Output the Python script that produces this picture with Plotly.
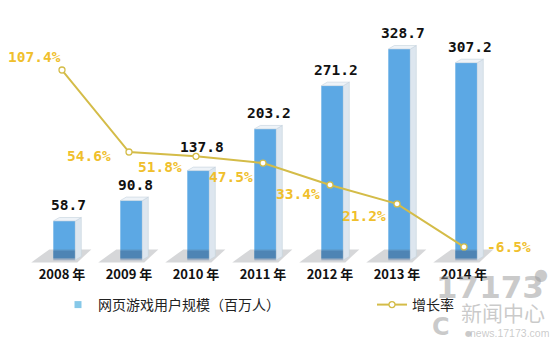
import plotly.graph_objects as go

# ---------------- data ----------------
years = ["2008 年", "2009 年", "2010 年", "2011 年", "2012 年", "2013 年", "2014 年"]
users = [58.7, 90.8, 137.8, 203.2, 271.2, 328.7, 307.2]          # 网页游戏用户规模（百万人）
growth = [107.4, 54.6, 51.8, 47.5, 33.4, 21.2, -6.5]             # 增长率 (%)
series_names = ["网页游戏用户规模（百万人）", "增长率"]

# ---------------- styling / geometry ----------------
W, H = 550, 340
M_T, M_B = 15, 75
PLOT_H = H - M_T - M_B
PX_PER_CAT = 67.0
X0_PX = 62.0
Y1_ZERO_PX, Y1_SCALE = 258.4, 0.637    # px of 0 and px per unit (left axis)
Y2_ZERO_PX, Y2_SCALE = 236.8, 1.553    # right axis (percent)

def y1_range():
    top, bot = M_T, M_T + PLOT_H
    return [(Y1_ZERO_PX - bot) / Y1_SCALE, (Y1_ZERO_PX - top) / Y1_SCALE]

def y2_range():
    top, bot = M_T, M_T + PLOT_H
    return [(Y2_ZERO_PX - bot) / Y2_SCALE, (Y2_ZERO_PX - top) / Y2_SCALE]

x_range = [-X0_PX / PX_PER_CAT, (W - X0_PX) / PX_PER_CAT]

BAR_SHIFT = 2.3 / PX_PER_CAT
BAR_W = 22 / PX_PER_CAT
SIDE_W = 6 / PX_PER_CAT
DEPTH = 3.5 / Y1_SCALE

BAR_COLOR = "#5CA8E4"
BAR_DARK = "rgba(40,100,165,0.35)"
SIDE_COLOR = "#DDE6EF"
CAP_COLOR = "#EEF3F8"
EDGE_COLOR = "#C5D2DE"
LINE_COLOR = "#D4BC48"
PCT_COLOR = "#F0BF2C"
NUM_FONT = "DejaVu Sans Mono"
CJK_FONT = "Noto Sans CJK SC"

# per-label pixel offsets (style only)
pct_offsets = [(-28, -13), (-40, 4), (-36, 11), (-32, 14), (-32, 9), (-33, 12), (45, 0)]
val_lift = [16, 16, 24, 16, 16, 16, 16]

idx = list(range(len(years)))
bar_x = [i + BAR_SHIFT for i in idx]

# ----- 3D decoration polygons, computed from the data -----
sx, sy, cx, cy, shx, shy = [], [], [], [], [], []
px = 1 / PX_PER_CAT
py = 1 / Y1_SCALE
for xc, v in zip(bar_x, users):
    L, R = xc - BAR_W / 2, xc + BAR_W / 2
    sx += [R, R + SIDE_W, R + SIDE_W, R, R, None]
    sy += [-2.5, -2.5 + DEPTH, v + DEPTH, v, -2.5, None]
    cx += [L, R, R + SIDE_W, L + SIDE_W, L, None]
    cy += [v, v, v + DEPTH, v + DEPTH, v, None]
    shx += [L - 22 * px, R + 2 * px, R + 16 * px, L - 4 * px, L - 22 * px, None]
    shy += [-4 * py, -4 * py, 9 * py, 9 * py, -4 * py, None]

fig = go.Figure()

fig.add_trace(go.Scatter(x=shx, y=shy, mode="lines", fill="toself",
                         fillcolor="rgba(90,95,105,0.25)", line=dict(width=0),
                         hoverinfo="skip", showlegend=False))
fig.add_trace(go.Scatter(x=sx, y=sy, mode="lines", fill="toself",
                         fillcolor=SIDE_COLOR, line=dict(width=0.6, color=EDGE_COLOR),
                         hoverinfo="skip", showlegend=False))
fig.add_trace(go.Scatter(x=cx, y=cy, mode="lines", fill="toself",
                         fillcolor=CAP_COLOR, line=dict(width=0.6, color=EDGE_COLOR),
                         hoverinfo="skip", showlegend=False))
# legend-only swatch for the bars
fig.add_trace(go.Scatter(x=[None], y=[None], mode="markers", name=series_names[0],
                         marker=dict(symbol="square", size=7, color="#86C8E8"),
                         showlegend=True, legend="legend"))

fig.add_trace(go.Bar(x=bar_x, y=users, width=BAR_W, marker=dict(color=BAR_COLOR, line=dict(width=0)),
                     name=series_names[0], showlegend=False))
fig.add_trace(go.Bar(x=bar_x, y=[15] * len(users), base=-3, width=BAR_W,
                     marker=dict(color=BAR_DARK, line=dict(width=0)),
                     hoverinfo="skip", showlegend=False))

fig.add_trace(go.Scatter(x=idx, y=growth, yaxis="y2", mode="lines+markers", name=series_names[1],
                         line=dict(color=LINE_COLOR, width=2),
                         marker=dict(size=6, color="white", line=dict(color=LINE_COLOR, width=1.3)),
                         showlegend=True, legend="legend2"))

annotations = []
for xc, v, lift in zip(bar_x, users, val_lift):
    annotations.append(dict(x=xc + 4 / PX_PER_CAT, y=v, xref="x", yref="y", yshift=lift,
                            text=f"<b>{v:.1f}</b>", showarrow=False, yanchor="middle",
                            font=dict(family=NUM_FONT, size=14.5, color="#111111")))
for i, g, (dx, dy) in zip(idx, growth, pct_offsets):
    annotations.append(dict(x=i, y=g, xref="x", yref="y2", xshift=dx, yshift=-dy,
                            text=f"<b>{g:.1f}%</b>", showarrow=False, yanchor="middle",
                            font=dict(family=NUM_FONT, size=14.5, color=PCT_COLOR)))

# watermark (pixel positions converted to paper)
wm = "rgba(150,150,150,0.5)"
wm_items = [
    (490, 287, "<b>17173</b>", "DejaVu Sans", 31),
    (541, 274, "●", "DejaVu Sans", 16),
    (503, 312, "新闻中心", CJK_FONT, 21),
    (468, 333, "●", "DejaVu Sans", 8),
    (510, 333, "news.17173.com", "Liberation Sans", 10.5),
    (441, 327, "<b>C</b>", "DejaVu Sans", 24),
]
for xp, yp, t, fam, sz in wm_items:
    annotations.append(dict(x=xp / W, y=(H - yp - M_B) / PLOT_H, xref="paper", yref="paper",
                            text=t, showarrow=False, xanchor="center", yanchor="middle",
                            font=dict(family=fam, size=sz, color=wm)))

legend_y = -(305 - (M_T + PLOT_H)) / PLOT_H
legend_font = dict(family=CJK_FONT, size=14, color="#222222")

fig.update_layout(
    width=W, height=H,
    margin=dict(l=0, r=0, t=M_T, b=M_B),
    paper_bgcolor="white", plot_bgcolor="white",
    barmode="overlay",
    xaxis=dict(range=x_range, tickvals=idx, ticktext=years, showgrid=False, zeroline=False,
               showline=False, ticks="",
               tickfont=dict(family=CJK_FONT, size=13, color="#111111", weight="bold")),
    yaxis=dict(range=y1_range(), visible=False),
    yaxis2=dict(range=y2_range(), overlaying="y", visible=False),
    legend=dict(orientation="h", x=58 / W, xanchor="left", y=legend_y, yanchor="middle",
                font=legend_font, bgcolor="rgba(0,0,0,0)"),
    legend2=dict(orientation="h", x=372 / W, xanchor="left", y=legend_y, yanchor="middle",
                 font=legend_font, bgcolor="rgba(0,0,0,0)"),
    annotations=annotations,
    showlegend=True,
)

fig.write_html("out.html")
